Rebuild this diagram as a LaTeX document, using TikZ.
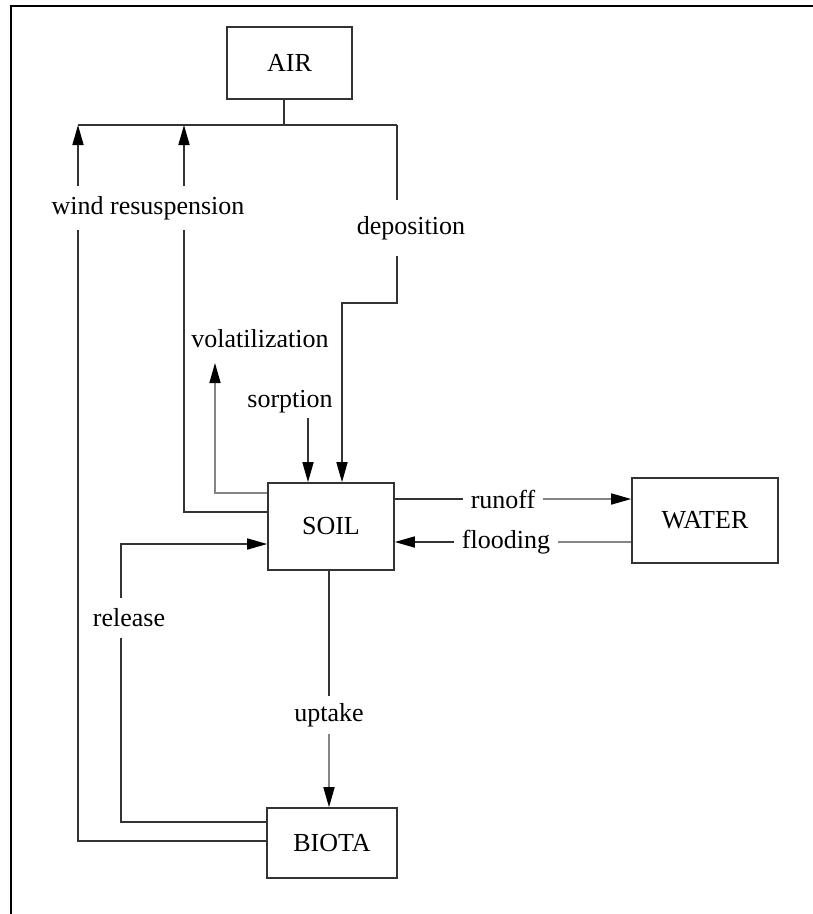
\documentclass[tikz,border=0pt]{standalone}
\usepackage{fontspec}
\setmainfont{Liberation Serif}
\usetikzlibrary{arrows.meta}
\definecolor{boxline}{HTML}{333333}
\definecolor{flowgray}{HTML}{858585}
\newcommand{\flowfont}{\fontsize{26}{30}\selectfont}

\begin{document}
\begin{tikzpicture}[x=1pt, y=-1pt,
	compartment/.style={draw=boxline, line width=1.6pt, font=\flowfont, inner sep=0pt},
	flowlabel/.style={font=\flowfont, inner xsep=8pt, inner ysep=10pt},
	plain/.style={draw=boxline, line width=1.6pt},
	flow/.style={plain, -{Triangle[length=20pt, width=11pt, color=black]}}]
	\useasboundingbox (0,0) rectangle (813,914);
	\draw[line width=2.6pt] (813,6) -- (11,6) -- (11,914);

	\node[compartment, minimum width=125pt, minimum height=72pt] (AIR) at (289.5,63) {AIR};
	\node[compartment, minimum width=126pt, minimum height=87pt] (SOIL) at (331,526.5) {SOIL};
	\node[compartment, minimum width=146pt, minimum height=85pt] (WATER) at (705,520.5) {WATER};
	\node[compartment, minimum width=130pt, minimum height=70pt] (BIOTA) at (332,843) {BIOTA};

	\node[flowlabel] (wind) at (148,208) {wind resuspension};
	\node[flowlabel, inner ysep=16pt] (depos) at (411,228) {deposition};
	\node[flowlabel] (volat) at (260,339) {volatilization};
	\node[flowlabel] (sorp) at (290,402) {sorption};
	\node[flowlabel] (runoff) at (503,499) {runoff};
	\node[flowlabel] (flood) at (506,542) {flooding};
	\node[flowlabel, inner ysep=7pt] (uptake) at (329,715) {uptake};
	\node[flowlabel, inner ysep=11pt] (release) at (129,618) {release};

	\coordinate (busW) at (78,125);
	\coordinate (busM) at (184,125);
	\coordinate (busA) at (284,125);
	\coordinate (busE) at (397,125);
	\coordinate (depoBend) at (342,303);
	\coordinate (volatTip) at (215,363);
	\coordinate (sorpTop) at (308,418);
	\coordinate (relBend) at (121,544);

	\draw[plain] (AIR.south -| busA) -- (busA);
	\draw[plain] (busW) -- (busE);
	\draw[plain] (BIOTA.west |- 0,841) -| (wind.south -| busW);
	\draw[flow] (wind.north -| busW) -- (busW);
	\draw[plain] (SOIL.west |- 0,512) -| (wind.south -| busM);
	\draw[flow] (wind.north -| busM) -- (busM);
	\draw[plain] (busE) -- (depos.north -| busE);
	\draw[flow] (depos.south -| busE) |- (depoBend) -- (depoBend |- SOIL.north);
	\draw[flow, draw=flowgray] (SOIL.west |- 0,493) -| (volatTip);
	\draw[flow] (sorpTop) -- (sorpTop |- SOIL.north);
	\draw[plain] (SOIL.east |- runoff) -- (runoff.west);
	\draw[flow, draw=flowgray] (runoff.east) -- (WATER.west |- runoff);
	\draw[plain, draw=flowgray] (WATER.west |- flood) -- (flood.east);
	\draw[flow] (flood.west) -- (SOIL.east |- flood);
	\draw[plain] (SOIL.south -| uptake) -- (uptake.north);
	\draw[flow, draw=flowgray] (uptake.south) -- (BIOTA.north -| uptake);
	\draw[plain] (BIOTA.west |- 0,822) -| (release.south -| relBend);
	\draw[flow] (release.north -| relBend) |- (SOIL.west |- relBend);
\end{tikzpicture}
\end{document}
